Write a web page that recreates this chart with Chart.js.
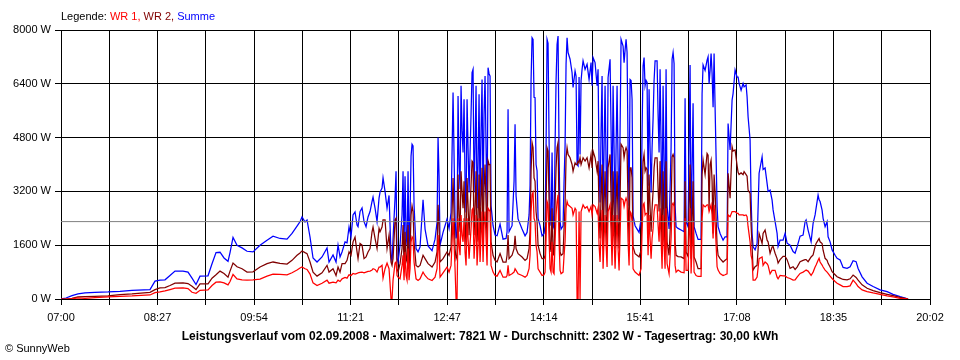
<!DOCTYPE html>
<html lang="de">
<head>
<meta charset="utf-8">
<title>Leistungsverlauf 02.09.2008</title>
<script src="https://cdn.jsdelivr.net/npm/chart.js@4.4.1/dist/chart.umd.min.js"></script>
<style>
  html, body { margin: 0; padding: 0; background: #fff; }
  #wrap { width: 960px; height: 360px; }
</style>
</head>
<body>
<div id="wrap"><canvas id="chart" width="960" height="360"></canvas></div>
<script>
// minutes after 07:00
const minutes = [
  0, 4.5, 9.9, 15.3, 21.6, 30.6, 42.3, 53.1, 63.9, 80.1,
  84.6, 89.1, 93.6, 98.1, 102.6, 109.8, 114.3, 117.9, 121.5, 125.1,
  132.3, 135.9, 139.5, 143.1, 146.7, 150.3, 152.1, 154.8, 158.4, 162.9,
  167.4, 172.8, 179.1, 185.4, 190.8, 197.1, 203.4, 207.9, 212.4, 215.1,
  216.9, 219.6, 221.4, 224.1, 226.8, 230.4, 234.9, 239.4, 241.2, 244.8,
  247.5, 249.3, 251.1, 252.9, 255.6, 257.4, 259.2, 261, 262.8, 264.6,
  266.4, 267.3, 269.1, 270.9, 272.7, 274.5, 276.3, 278.1, 279.9, 280.8,
  282.6, 284.4, 286.2, 287.1, 288.9, 289.8, 291.6, 293.4, 295.2, 297,
  297.9, 298.8, 300.6, 301.5, 302.4, 303.3, 305.1, 306.9, 307.8, 308.7,
  309.6, 310.5, 311.4, 312.3, 313.2, 314.1, 315, 315.9, 316.8, 317.7,
  319.5, 321.3, 323.1, 325.8, 327.6, 330.3, 333.9, 336.6, 338.4, 339.3,
  340.2, 341.1, 343.8, 347.4, 349.2, 351, 352.8, 354.6, 355.5, 356.4,
  357.3, 358.2, 359.1, 360, 360.9, 361.8, 362.7, 363.6, 364.5, 365.4,
  366.3, 367.2, 369, 369.9, 370.8, 371.7, 372.6, 373.5, 374.4, 375.3,
  376.2, 377.1, 378, 378.9, 379.8, 380.7, 381.6, 382.5, 383.4, 384.3,
  385.2, 386.1, 387, 388.8, 390.6, 392.4, 395.1, 397.8, 400.5, 401.4,
  402.3, 403.2, 405.9, 407.7, 408.6, 409.5, 411.3, 414.9, 417.6, 419.4,
  421.2, 422.1, 423, 423.9, 424.8, 425.7, 426.6, 427.5, 428.4, 429.3,
  431.1, 432.9, 434.7, 435.6, 436.5, 437.4, 438.3, 439.2, 440.1, 441,
  441.9, 442.8, 443.7, 444.6, 445.5, 446.4, 447.3, 448.2, 449.1, 450,
  451.8, 452.7, 453.6, 454.5, 455.4, 456.3, 458.1, 459.9, 460.8, 462.6,
  463.5, 464.4, 465.3, 466.2, 467.1, 468, 468.9, 469.8, 471.6, 473.4,
  475.2, 477, 477.9, 478.8, 480.6, 482.4, 483.3, 484.2, 485.1, 486,
  486.9, 487.8, 488.7, 489.6, 490.5, 491.4, 492.3, 494.1, 495, 495.9,
  496.8, 497.7, 498.6, 499.5, 500.4, 501.3, 502.2, 503.1, 504, 505.8,
  506.7, 507.6, 508.5, 509.4, 510.3, 511.2, 512.1, 513, 513.9, 514.8,
  516.6, 518.4, 520.2, 522, 522.9, 523.8, 524.7, 525.6, 526.5, 527.4,
  528.3, 529.2, 530.1, 531, 531.9, 532.8, 533.7, 534.6, 536.4, 537.3,
  538.2, 539.1, 540, 540.9, 541.8, 542.7, 543.6, 544.5, 545.4, 547.2,
  549, 549.9, 550.8, 551.7, 552.6, 553.5, 555.3, 558, 560.7, 561.6,
  562.5, 564.3, 565.2, 566.1, 567, 568.8, 569.7, 571.5, 573.3, 576,
  576.9, 577.8, 579.6, 581.4, 582.3, 583.2, 584.1, 585, 585.9, 586.8,
  587.7, 588.6, 590.4, 591.3, 593.1, 595.8, 597.6, 599.4, 600.3, 602.1,
  603.9, 604.8, 606.6, 608.4, 609.3, 610.2, 612, 613.8, 614.7, 616.5,
  617.4, 618.3, 620.1, 621, 621.9, 622.8, 624.6, 626.4, 628.2, 630.9,
  631.8, 633.6, 635.4, 636.3, 638.1, 639.9, 640.8, 642.6, 644.4, 645.3,
  647.1, 649.8, 651.6, 653.4, 656.1, 658.8, 660.6, 662.4, 665.1, 667.8,
  669.6, 670.5, 672.3, 675, 676.8, 678.6, 679.5, 681.3, 682.2, 683.1,
  684.9, 685.8, 687.6, 689.4, 690.3, 692.1, 693.9, 696.6, 698.4, 701.1,
  703.8, 707.4, 710.1, 712.8, 715.5, 717.3, 720.9, 725.4, 730.8, 737.1,
  743.4, 748.8, 755.1, 759.6, 762.3
];

// Summe (W)
const summe = [
  0, 30, 100, 150, 180, 200, 210, 230, 260, 280,
  530, 560, 570, 700, 830, 830, 800, 620, 430, 680,
  690, 1050, 1380, 1390, 1220, 1120, 1380, 1830, 1600, 1520,
  1420, 1400, 1600, 1750, 1870, 1800, 1780, 1950, 2170, 2300,
  2440, 2290, 2350, 1840, 1220, 1100, 1250, 1520, 1100, 1310,
  1100, 1600, 1250, 1400, 1700, 1670, 2140, 1850, 2500, 2590,
  2200, 2150, 2600, 2710, 2300, 2150, 2440, 2600, 2900, 3030,
  2700, 2300, 3000, 3180, 3300, 3600, 3200, 2700, 3080, 1300,
  1100, 1800, 3000, 3800, 1200, 1100, 1600, 2500, 3800, 1500,
  3650, 1900, 1600, 3800, 1400, 2500, 4250, 4600, 4550, 2800,
  1500, 1400, 1550, 2950, 2080, 1580, 1440, 1780, 2280, 4800,
  3660, 1600, 1980, 2380, 2100, 2570, 6140, 2400, 1800, 2000,
  6040, 4000, 3270, 6340, 5000, 4360, 5940, 3500, 2570, 5940,
  4500, 3170, 5500, 6730, 6830, 3170, 4500, 6340, 2700, 4000,
  6090, 2770, 5000, 6530, 2770, 5500, 6630, 4500, 2670, 6880,
  6700, 6630, 2770, 2180, 1900, 1880, 2230, 1780, 1800, 2000,
  5640, 2000, 2180, 3500, 5200, 3070, 2380, 2080, 1880, 1980,
  2500, 3370, 6500, 7770, 7720, 6000, 5990, 4000, 3810, 2400,
  2180, 1880, 1950, 2180, 4500, 7720, 7600, 4750, 2500, 2180,
  4360, 2180, 2100, 4550, 6500, 7570, 7820, 4360, 2300, 2080,
  2180, 3500, 4550, 7000, 7770, 7330, 7130, 6730, 6290, 6780,
  6630, 4000, 3960, 6600, 4300, 6500, 6830, 7080, 6830, 6980,
  6530, 7030, 6340, 7180, 7030, 6340, 6830, 4000, 2870, 5000,
  6630, 2380, 4500, 6340, 4000, 2570, 6580, 7130, 5000, 2770,
  6340, 4500, 2380, 4500, 6340, 4000, 2380, 5000, 7720, 7520,
  7030, 7400, 7720, 7330, 4500, 2770, 6530, 6500, 5940, 2470,
  2180, 2080, 1980, 2380, 5000, 6930, 7180, 6340, 6500, 6440,
  3370, 6240, 4500, 3170, 4500, 5350, 6500, 7080, 7080, 5500,
  4360, 6830, 4500, 2380, 6340, 4000, 2380, 6830, 2770, 2080,
  4500, 7130, 7330, 7000, 2770, 2150, 2100, 2050, 2000, 5970,
  2300, 2150, 4500, 6960, 1950, 5820, 2150, 1950, 1770, 1770,
  6110, 6960, 6800, 7100, 7200, 6400, 6800, 7300, 6700, 5700,
  7300, 5700, 2750, 2150, 1950, 1750, 1850, 1850, 5220, 4430,
  5920, 6110, 6810, 6600, 6600, 6410, 6210, 6410, 6310, 6370,
  6010, 5420, 4730, 3000, 1950, 1550, 1460, 1650, 3740, 4230,
  3850, 3900, 3440, 3200, 3240, 2940, 2650, 2300, 1950, 1560,
  1750, 1750, 1950, 1660, 1600, 1410, 1360, 1550, 1870, 1900,
  2300, 2350, 2050, 1700, 2250, 2500, 2700, 3090, 2950, 2900,
  2640, 2400, 2150, 2300, 1850, 1700, 1460, 1300, 1210, 1160,
  940, 910, 960, 1140, 1110, 910, 660, 470, 370, 270,
  220, 140, 70, 30, 0
];

// WR 2 (W)
const wr2 = [
  0, 0, 20, 60, 70, 80, 90, 130, 150, 200,
  280, 330, 340, 400, 470, 480, 460, 380, 280, 450,
  450, 620, 720, 830, 760, 650, 830, 1070, 960, 900,
  800, 810, 950, 1050, 1100, 1060, 1040, 1150, 1300, 1370,
  1430, 1380, 1350, 1100, 800, 680, 780, 1000, 800, 900,
  700, 950, 800, 1050, 1050, 1150, 1400, 1300, 1700, 1840,
  1400, 1200, 1650, 1600, 1200, 1250, 1400, 1500, 2000, 2140,
  1800, 1500, 2100, 2000, 2140, 2350, 2350, 1500, 1900, 1100,
  1000, 1200, 2350, 2400, 900, 800, 1050, 1500, 2200, 1000,
  2000, 1200, 1100, 2200, 900, 1500, 2500, 2770, 2600, 1700,
  1000, 950, 1000, 1300, 1200, 1050, 950, 1100, 1400, 2800,
  2200, 1100, 1200, 1400, 1300, 1550, 3600, 1500, 1200, 1300,
  3700, 2500, 2000, 3800, 3200, 2700, 3500, 2200, 1600, 3600,
  2800, 1900, 3400, 4100, 4060, 1900, 2700, 3800, 1700, 2400,
  3700, 1700, 3000, 3900, 1700, 3300, 4000, 2800, 1700, 4110,
  4000, 4000, 1700, 1300, 1150, 1100, 1350, 1100, 1100, 1300,
  1900, 1200, 1300, 1500, 1880, 1500, 1350, 1250, 1150, 1200,
  1500, 2000, 3800, 4650, 4500, 3600, 3500, 2600, 2300, 1600,
  1350, 1200, 1200, 1300, 2800, 4500, 4400, 2900, 1600, 1400,
  2700, 1350, 1300, 2800, 3900, 4500, 4650, 2600, 1400, 1300,
  1350, 2100, 2800, 4200, 4500, 4300, 4200, 4000, 3800, 4050,
  4000, 4000, 4100, 4050, 4200, 4000, 4100, 4200, 4100, 4200,
  3900, 4300, 3900, 4400, 4200, 3800, 4100, 2600, 1800, 3100,
  4000, 1500, 2800, 3800, 2500, 1600, 3900, 4300, 3000, 1700,
  3800, 2700, 1500, 2800, 3800, 2400, 1500, 3000, 4600, 4500,
  4200, 4400, 4500, 4400, 2800, 1700, 3900, 3900, 3600, 1550,
  1350, 1300, 1250, 1450, 3000, 4100, 4300, 3800, 3900, 3850,
  2100, 3700, 2700, 2000, 2700, 3200, 3900, 4200, 4200, 3300,
  2600, 4100, 2700, 1500, 3800, 2400, 1450, 4100, 1700, 1300,
  2700, 4230, 4300, 4200, 1700, 1300, 1260, 1250, 1200, 3500,
  1400, 1260, 2800, 4000, 1200, 3500, 1250, 1100, 900, 900,
  3700, 4130, 3700, 4330, 4280, 2700, 4000, 4130, 3500, 1950,
  3700, 3200, 1600, 1300, 1200, 1100, 1150, 1200, 3740, 3000,
  4530, 4400, 4430, 3970, 3770, 3700, 3750, 3700, 3790, 3700,
  3650, 3240, 3140, 2200, 1560, 860, 960, 1000, 1950, 1650,
  1950, 2050, 1750, 1700, 1360, 1550, 1560, 1360, 1200, 1070,
  1170, 1270, 1270, 1170, 910, 960, 880, 950, 1110, 1150,
  1170, 1170, 1110, 1250, 1310, 1560, 1650, 1750, 1800, 1700,
  1650, 1450, 1210, 1150, 1060, 950, 810, 720, 660, 620,
  580, 570, 600, 710, 640, 560, 420, 320, 250, 190,
  140, 100, 50, 20, 0
];

// WR 1 (W)
const wr1 = [
  0, 0, 10, 30, 20, 40, 60, 80, 90, 120,
  190, 210, 240, 280, 320, 330, 310, 200, 170, 260,
  270, 400, 500, 510, 480, 420, 520, 730, 600, 570,
  560, 570, 590, 680, 740, 730, 720, 780, 860, 920,
  950, 900, 880, 740, 480, 400, 470, 560, 470, 500,
  480, 560, 520, 600, 640, 620, 720, 700, 760, 740,
  760, 780, 790, 800, 780, 800, 820, 830, 860, 900,
  880, 800, 950, 950, 1000, 620, 900, 1070, 900, 0,
  0, 560, 1070, 1100, 700, 650, 600, 1000, 1300, 560,
  1400, 700, 560, 1500, 560, 900, 1700, 1850, 1800, 1100,
  600, 550, 600, 800, 700, 600, 550, 650, 900, 1900,
  1400, 650, 780, 950, 800, 1000, 2400, 900, 0, 0,
  2400, 1600, 1300, 2500, 1900, 1700, 2400, 1400, 1000, 2400,
  1800, 1200, 2100, 2650, 2700, 1200, 1800, 2500, 1000, 1600,
  2400, 1100, 1900, 2600, 1100, 2200, 2600, 1800, 1000, 2700,
  2650, 2600, 1000, 800, 700, 680, 850, 650, 650, 700,
  1000, 700, 750, 800, 900, 850, 750, 700, 650, 700,
  900, 1300, 2600, 3100, 3170, 2400, 2300, 1600, 1400, 900,
  800, 700, 720, 800, 1800, 2900, 2800, 1800, 900, 800,
  1700, 800, 750, 1700, 2500, 2900, 3100, 1700, 850, 750,
  800, 1300, 1700, 2700, 2900, 2800, 2750, 2700, 2500, 2700,
  2650, 0, 0, 2600, 0, 2600, 2700, 2800, 2700, 2750,
  2600, 2750, 2500, 2800, 2750, 2550, 2700, 1600, 1100, 2000,
  2650, 900, 1800, 2500, 1600, 950, 2600, 2800, 2000, 1000,
  2500, 1800, 900, 1700, 2500, 1500, 850, 1900, 3000, 2950,
  2750, 2900, 3000, 2900, 1700, 1000, 2600, 2550, 2300, 900,
  800, 750, 700, 900, 2000, 2800, 2850, 2500, 2550, 2550,
  1300, 2500, 1800, 1200, 1800, 2100, 2600, 2800, 2800, 2200,
  1700, 2700, 1800, 900, 2500, 1600, 900, 2700, 1050, 750,
  1800, 2800, 2850, 2750, 1000, 800, 860, 800, 780, 2400,
  850, 850, 1800, 2700, 760, 2300, 800, 700, 670, 670,
  2400, 2800, 2740, 2800, 2800, 2600, 2700, 2800, 2500, 1800,
  2800, 2300, 960, 860, 760, 700, 720, 750, 2500, 2450,
  2600, 2600, 2600, 2550, 2550, 2500, 2500, 2500, 2480, 2500,
  2450, 2150, 1700, 1300, 1160, 560, 560, 650, 1200, 1250,
  1000, 1100, 1050, 1000, 750, 850, 850, 850, 650, 600,
  700, 690, 690, 640, 610, 560, 570, 650, 760, 800,
  840, 860, 830, 700, 800, 950, 1010, 1150, 1210, 1100,
  1010, 950, 860, 800, 760, 680, 610, 520, 470, 420,
  370, 370, 390, 560, 460, 370, 270, 220, 180, 140,
  90, 60, 20, 10, 0
];

const average = 2302;
const dayLength = 782; // 07:00 - 20:02 in minutes
const timeLabels = ['07:00', '08:27', '09:54', '11:21', '12:47', '14:14', '15:41', '17:08', '18:35', '20:02'];
const yMax = 8000;
const yStep = 1600;

const legendParts = [
  { text: 'Legende: ', color: '#000000' },
  { text: 'WR 1, ', color: '#ff0000' },
  { text: 'WR 2, ', color: '#800000' },
  { text: 'Summe', color: '#0000ff' }
];
const footerText = 'Leistungsverlauf vom 02.09.2008 - Maximalwert: 7821 W - Durchschnitt: 2302 W - Tagesertrag: 30,00 kWh';
const copyText = '\u00a9 SunnyWeb';

const FONT = '"Liberation Sans", Arial, sans-serif';

// build x/y points for the line datasets
function points(values) {
  return minutes.map((m, i) => ({ x: m, y: values[i] }));
}

// legend, footer and copyright drawn as plain text
const textPlugin = {
  id: 'sunnyText',
  afterDraw(chart) {
    const c = chart.ctx;
    c.save();
    c.textBaseline = 'middle';
    c.font = '11px ' + FONT;
    let x = chart.chartArea.left;
    legendParts.forEach(p => {
      c.fillStyle = p.color;
      c.textAlign = 'left';
      c.fillText(p.text, x, 17);
      x += c.measureText(p.text).width;
    });

    c.font = 'bold 12px ' + FONT;
    c.fillStyle = '#000';
    c.textAlign = 'center';
    c.fillText(footerText, 480, 337);

    c.font = '11px ' + FONT;
    c.textAlign = 'left';
    c.fillText(copyText, 5, 349);
    c.restore();
  }
};

const ctx = document.getElementById('chart').getContext('2d');
new Chart(ctx, {
  type: 'line',
  data: {
    datasets: [
      { label: 'Durchschnitt', data: [{ x: 0, y: average }, { x: dayLength, y: average }], borderColor: '#808080', borderWidth: 1, order: 0 },
      { label: 'WR 1', data: points(wr1), borderColor: '#ff0000', order: 1 },
      { label: 'WR 2', data: points(wr2), borderColor: '#800000', order: 2 },
      { label: 'Summe', data: points(summe), borderColor: '#0000ff', order: 3 }
    ]
  },
  options: {
    responsive: false,
    animation: false,
    events: [],
    layout: { padding: { top: 30, right: 30, bottom: 36, left: 0 } },
    elements: {
      line: { borderWidth: 1.25, tension: 0, fill: false },
      point: { radius: 0 }
    },
    plugins: {
      legend: { display: false },
      tooltip: { enabled: false },
      title: { display: false }
    },
    scales: {
      x: {
        type: 'linear',
        min: 0,
        max: dayLength,
        afterBuildTicks: scale => {
          // 18 grid intervals, a label on every second one
          scale.ticks = [];
          for (let i = 0; i <= 18; i++) scale.ticks.push({ value: i * dayLength / 18 });
        },
        afterFit: scale => { scale.height = 25; },
        grid: { color: '#000', lineWidth: 1, tickLength: 6 },
        border: { color: '#000', width: 1 },
        ticks: {
          autoSkip: false,
          maxRotation: 0,
          color: '#000',
          padding: 6,
          font: { family: FONT, size: 11 },
          callback: (v, i) => (i % 2 === 0 ? timeLabels[i / 2] : '')
        }
      },
      y: {
        min: 0,
        max: yMax,
        afterFit: scale => { scale.width = 61; },
        grid: { color: '#000', lineWidth: 1, tickLength: 6 },
        border: { color: '#000', width: 1 },
        ticks: {
          stepSize: yStep,
          color: '#000',
          padding: 4,
          font: { family: FONT, size: 11 },
          callback: v => v + ' W'
        }
      }
    }
  },
  plugins: [textPlugin]
});
</script>
</body>
</html>
